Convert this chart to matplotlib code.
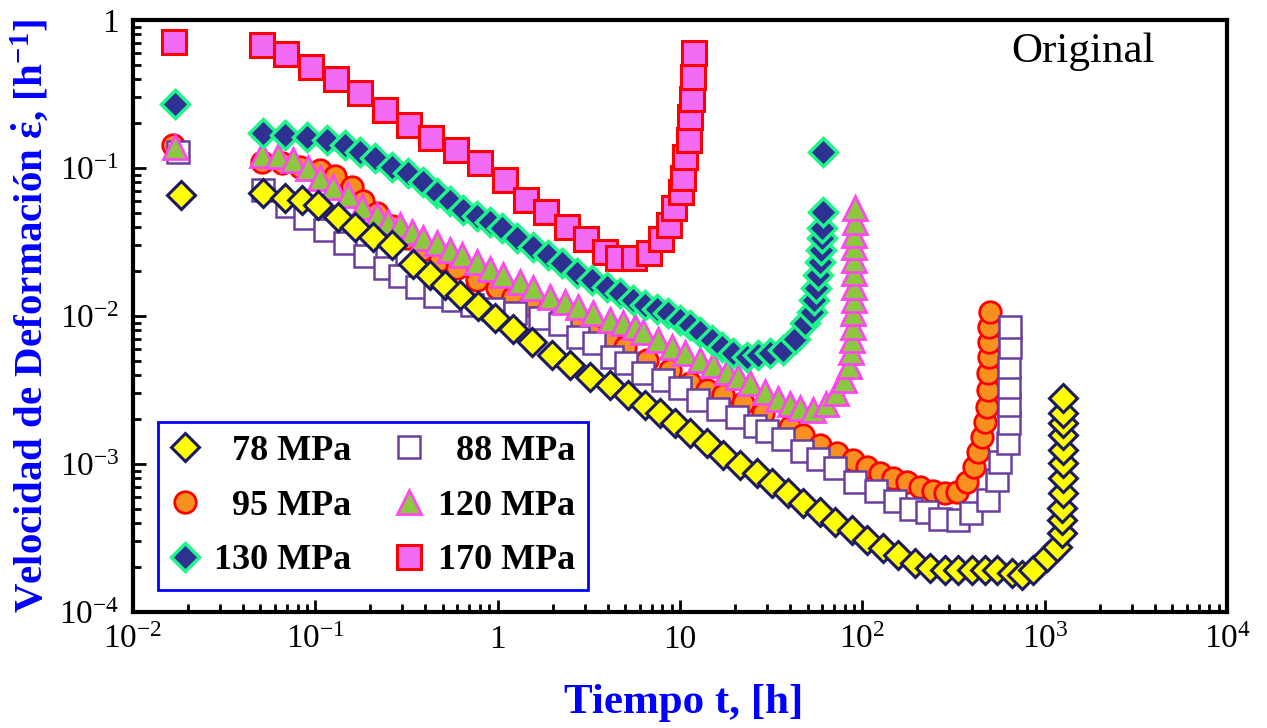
import matplotlib
matplotlib.use('Agg')
import matplotlib.pyplot as plt

plt.rcParams['font.family'] = ['Liberation Serif', 'DejaVu Serif']
plt.rcParams['mathtext.fontset'] = 'custom'
plt.rcParams['mathtext.rm'] = 'Liberation Serif'
plt.rcParams['mathtext.default'] = 'regular'

# --- datos (tiempo [h], velocidad [1/h]) ---
t78 = [0.0183, 0.0516, 0.0682, 0.0845, 0.1035, 0.133, 0.165, 0.207, 0.263, 0.344,
       0.426, 0.515, 0.622, 0.781, 0.968, 1.22, 1.54, 1.99, 2.50, 3.21,
       4.14, 5.19, 6.44, 7.78, 9.40, 11.4, 14.1, 17.2, 21.4, 26.5,
       32.0, 39.2, 47.4, 58.7, 70.9, 87.9, 106, 130, 157, 195,
       235, 285, 335, 400, 472, 549, 663, 753, 865, 1032,
       1171, 1247, 1249, 1251, 1253, 1255, 1257, 1259, 1261, 1263, 1265, 1267]
e78 = [0.0657, 0.0678, 0.0627, 0.0608, 0.0562, 0.0467, 0.0399, 0.0342, 0.0302, 0.0225,
       0.0189, 0.0162, 0.0139, 0.0117, 0.00969, 0.00817, 0.00667, 0.00545, 0.00467, 0.00387,
       0.00342, 0.00293, 0.00250, 0.00221, 0.00189, 0.00162, 0.00139, 0.00115, 0.000984, 0.000870,
       0.000744, 0.000637, 0.000545, 0.000474, 0.000406, 0.000358, 0.000307, 0.000271, 0.000243, 0.000214,
       0.000198, 0.000192, 0.000192, 0.000192, 0.000192, 0.000192, 0.000184, 0.000178, 0.000192, 0.000235,
       0.000275, 0.000342, 0.000418, 0.000504, 0.000637, 0.000804, 0.00102, 0.00124, 0.00157, 0.00189,
       0.00221, 0.00279]

t88 = [0.0177, 0.0516, 0.0700, 0.0878, 0.113, 0.146, 0.187, 0.241, 0.292, 0.361,
       0.454, 0.569, 0.724, 0.944, 1.25, 1.71, 2.20, 2.76, 3.38, 4.24,
       5.06, 6.27, 8.08, 10.0, 12.6, 16.2, 20.6, 25.8, 30.1, 36.8,
       46.8, 57.2, 70.9, 91.3, 118, 151, 185, 227, 267, 335,
       395, 490, 549, 570, 631, 633, 635, 637, 639, 641, 643]
e88 = [0.128, 0.0710, 0.0554, 0.0459, 0.0381, 0.0311, 0.0254, 0.0211, 0.0186, 0.0157,
       0.0137, 0.0128, 0.0119, 0.0112, 0.0105, 0.00969, 0.00883, 0.00721, 0.00657, 0.00528,
       0.00481, 0.00412, 0.00369, 0.00326, 0.00271, 0.00235, 0.00208, 0.00181, 0.00167, 0.00148,
       0.00122, 0.00108, 0.000940, 0.000756, 0.000657, 0.000562, 0.000497, 0.000474, 0.000425, 0.000418,
       0.000467, 0.000571, 0.000780, 0.00103, 0.00139, 0.00189, 0.00250, 0.00331, 0.00452, 0.00617,
       0.00843]

t95 = [0.0166, 0.0510, 0.0657, 0.0824, 0.106, 0.128, 0.159, 0.183, 0.218, 0.263,
       0.318, 0.385, 0.483, 0.599, 0.771, 0.992, 1.22, 1.51, 1.87, 2.29,
       2.73, 3.21, 4.03, 5.00, 6.60, 8.83, 11.4, 14.1, 17.2, 22.2,
       28.6, 40.2, 47.4, 58.7, 72.7, 89.0, 106, 125, 148, 176,
       208, 245, 285, 331, 376, 411, 432, 454, 472, 484,
       490, 491, 492, 496, 497, 502]
e95 = [0.143, 0.110, 0.108, 0.102, 0.0969, 0.0883, 0.0744, 0.0598, 0.0497, 0.0406,
       0.0337, 0.0279, 0.0239, 0.0211, 0.0175, 0.0155, 0.0134, 0.0119, 0.0105, 0.00940,
       0.00843, 0.00768, 0.00688, 0.00617, 0.00504, 0.00432, 0.00353, 0.00316, 0.00293, 0.00258,
       0.00221, 0.00178, 0.00157, 0.00134, 0.00119, 0.00106, 0.000954, 0.000870, 0.000804, 0.000756,
       0.000699, 0.000657, 0.000637, 0.000647, 0.000756, 0.000954, 0.00121, 0.00152, 0.00192, 0.00243,
       0.00316, 0.00412, 0.00528, 0.00667, 0.00843, 0.0106]

t120 = [0.0170, 0.0511, 0.0623, 0.0755, 0.0912, 0.106, 0.125, 0.151, 0.180, 0.218,
        0.251, 0.292, 0.339, 0.390, 0.466, 0.548, 0.638, 0.771, 0.908, 1.07,
        1.33, 1.56, 1.94, 2.34, 2.76, 3.34, 4.14, 4.87, 5.67, 6.28,
        7.59, 9.06, 10.7, 12.9, 15.2, 18.1, 20.8, 24.3, 29.3, 34.5,
        40.2, 45.6, 53.7, 63.3, 71.8, 79.4, 84.7, 86.8, 87.9, 89.0,
        89.2, 89.4, 89.6, 89.8, 90.0, 90.2, 90.4, 90.6, 90.8]
e120 = [0.139, 0.122, 0.121, 0.113, 0.100, 0.0856, 0.0744, 0.0657, 0.0545, 0.0481,
        0.0432, 0.0412, 0.0369, 0.0337, 0.0311, 0.0279, 0.0258, 0.0232, 0.0208, 0.0189,
        0.0170, 0.0155, 0.0134, 0.0124, 0.0115, 0.0105, 0.00940, 0.00897, 0.00843, 0.00780,
        0.00688, 0.00617, 0.00562, 0.00504, 0.00467, 0.00418, 0.00387, 0.00353, 0.00307, 0.00275,
        0.00254, 0.00239, 0.00232, 0.00254, 0.00302, 0.00369, 0.00459, 0.00571, 0.00688, 0.00843,
        0.0105, 0.0128, 0.0157, 0.0195, 0.0239, 0.0293, 0.0353, 0.0432, 0.0537]

t130 = [0.0170, 0.0516, 0.0682, 0.0901, 0.116, 0.146, 0.176, 0.213, 0.263, 0.323,
        0.390, 0.466, 0.548, 0.646, 0.771, 0.908, 1.06, 1.28, 1.56, 1.89,
        2.25, 2.73, 3.30, 3.98, 4.69, 5.53, 6.44, 7.49, 8.61, 10.0,
        11.4, 12.9, 15.0, 17.0, 19.5, 23.3, 26.8, 31.2, 36.8, 42.8,
        48.5, 53.0, 54.4, 55.8, 57.2, 58.7, 59.4, 60.2, 60.4, 60.6, 60.8]
e130 = [0.271, 0.172, 0.167, 0.162, 0.155, 0.143, 0.128, 0.117, 0.102, 0.0925,
        0.0804, 0.0678, 0.0598, 0.0520, 0.0474, 0.0432, 0.0393, 0.0337, 0.0293, 0.0258,
        0.0228, 0.0195, 0.0175, 0.0157, 0.0143, 0.0128, 0.0119, 0.0112, 0.0105, 0.00940,
        0.00870, 0.00780, 0.00688, 0.00617, 0.00562, 0.00528, 0.00545, 0.00562, 0.00589, 0.00699,
        0.00897, 0.0106, 0.0128, 0.0155, 0.0189, 0.0232, 0.0279, 0.0337, 0.0393, 0.0504, 0.128]

t170 = [0.0168, 0.0511, 0.069, 0.0946, 0.130, 0.176, 0.241, 0.327, 0.432, 0.592,
        0.80, 1.10, 1.43, 1.84, 2.40, 3.05, 3.88, 4.57, 5.60, 6.76,
        7.87, 8.71, 9.28, 10.1, 10.4, 10.7, 11.2, 11.3, 11.7, 11.8, 11.9]
e170 = [0.71, 0.678, 0.589, 0.481, 0.399, 0.321, 0.246, 0.195, 0.160, 0.132,
        0.108, 0.083, 0.0608, 0.0504, 0.0399, 0.0331, 0.0271, 0.0247, 0.0247, 0.0267,
        0.0331, 0.0412, 0.0537, 0.0689, 0.0856, 0.119, 0.155, 0.221, 0.292, 0.412, 0.598]

xticks = [1e-2, 1e-1, 1, 10, 1e2, 1e3, 1e4]
xticklabels = ['10$^{-2}$', '10$^{-1}$', '1', '10', '10$^{2}$', '10$^{3}$', '10$^{4}$']
yticks = [1e-4, 1e-3, 1e-2, 1e-1, 1]
yticklabels = ['10$^{-4}$', '10$^{-3}$', '10$^{-2}$', '10$^{-1}$', '1']

# --- figura ---
fig = plt.figure(figsize=(12.67, 7.28), dpi=100)
ax = fig.add_axes([0.105, 0.1593, 0.8635, 0.8132])
ax.set_xscale('log')
ax.set_yscale('log')

h170, = ax.plot(t170, e170, ls='none', marker='s', ms=17.5, mfc='#f36af5', mec='#ff0000', mew=2.2)
h95, = ax.plot(t95, e95, ls='none', marker='o', ms=15.5, mfc='#f7901e', mec='#ff0000', mew=2)
h88, = ax.plot(t88, e88, ls='none', marker='s', ms=16, mfc='white', mec='#6b3fa0', mew=1.8)
h120, = ax.plot(t120, e120, ls='none', marker='^', ms=17.5, mfc='#8dc63f', mec='#ff47f2', mew=2)
h130, = ax.plot(t130, e130, ls='none', marker='D', ms=14.5, mfc='#2e3192', mec='#1ef58a', mew=2.5)
h78, = ax.plot(t78, e78, ls='none', marker='D', ms=14, mfc='#ffff00', mec='#1c1a5e', mew=2.2)

ax.set_xlim(1e-2, 1e4)
ax.set_ylim(1e-4, 1)
ax.set_xticks(xticks)
ax.set_xticklabels(xticklabels)
ax.set_yticks(yticks)
ax.set_yticklabels(yticklabels)

for s in ax.spines.values():
    s.set_linewidth(3)
ax.tick_params(which='both', direction='in', top=False, right=False, width=2)
ax.tick_params(which='major', length=9, labelsize=24)
ax.tick_params(which='minor', length=6)
ax.tick_params(axis='x', which='major', pad=9)
ax.tick_params(axis='y', which='major', pad=10)

ax.set_xlabel('Tiempo t, [h]', fontsize=31, fontweight='bold', color='#0000ff')
ax.xaxis.set_label_coords(0.503, -0.122)
ax.xaxis.label.set_va('top')
ax.set_ylabel('Velocidad de Deformación $\\dot{ε}$, [h$^{-1}$]', fontsize=29.5,
              fontweight='bold', color='#0000ff')
ax.yaxis.set_label_coords(-0.075, 0.5)

ax.text(0.868, 0.929, 'Original', transform=ax.transAxes, fontsize=31,
        ha='center', va='baseline')

leg = ax.legend([h78, h95, h130, h88, h120, h170],
                ['  78 MPa', '  95 MPa', '130 MPa', '  88 MPa', '120 MPa', '170 MPa'],
                ncol=2, loc='lower left', bbox_to_anchor=(0.023, 0.037), borderaxespad=0,
                fancybox=False, framealpha=1, edgecolor='#0000ff',
                prop={'family': 'Liberation Serif', 'weight': 'bold', 'size': 26},
                handlelength=0.8, handletextpad=0.4, columnspacing=1.2,
                labelspacing=0.6, borderpad=0.35)
leg.get_frame().set_linewidth(2)

plt.savefig('out.png', dpi=100)
